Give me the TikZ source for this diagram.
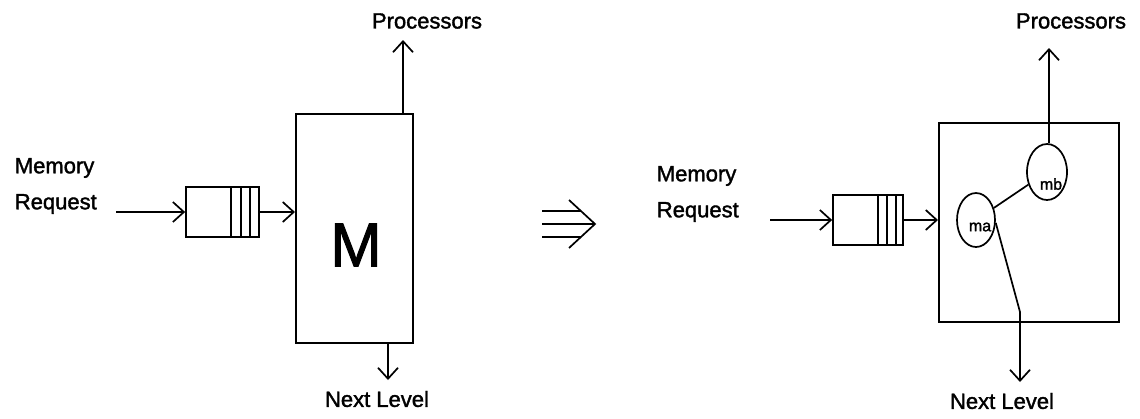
\documentclass[tikz,border=0pt]{standalone}
\usepackage{fontspec}
\setmainfont{Liberation Sans}[FakeBold=1.6]
\usetikzlibrary{arrows.meta,shapes.geometric}
\begin{document}
\begin{tikzpicture}[x=1pt,y=-1pt,
  line width=1.7pt,
  arr/.style={-{Straight Barb[length=11pt,width=20pt,line width=1.7pt]}},
  lbl/.style={font=\fontsize{22}{26}\selectfont, inner sep=0pt},
  small/.style={font=\fontsize{16}{18}\selectfont, inner sep=0pt},
  membox/.style={draw, rectangle, inner sep=0pt, anchor=north west},
  queue/.style={draw, rectangle, inner sep=0pt, minimum height=50pt},
  cell/.style={draw, ellipse, inner sep=0pt}]
\useasboundingbox (0,0) rectangle (1140,418);

% ---------------- left: single memory module ----------------
\node[membox, minimum width=117pt, minimum height=229pt] (memL) at (295,113) {};
\node[font=\fontsize{62}{70}\selectfont, inner sep=0pt] (bigM) at (356,245) {M};

\node[queue, minimum width=73pt] (qL) at (222.5,212) {};
\foreach \d in {10,19,29} \draw ([xshift=-\d pt]qL.north east) -- ([xshift=-\d pt]qL.south east);

\node[lbl, anchor=west] (memTxtL) at (14,168) {Memory};
\node[lbl, anchor=west] (reqTxtL) at (14,204) {Request};
\coordinate (inL) at (116,212);
\draw[arr] (inL) -- (qL.west);
\draw[arr] (qL.east) -- (memL.west |- qL.east);

\coordinate (procTipL) at (403,40);
\draw[arr] (memL.north west -| procTipL) -- (procTipL);
\node[lbl] (procL) at (427,21) {Processors};

\coordinate (nextTipL) at (388,380);
\draw[arr] (memL.south west -| nextTipL) -- (nextTipL);
\node[lbl] (nextL) at (377,399) {Next Level};

% ---------------- refinement symbol ----------------
\draw (542,211) -- (581,211);
\draw (542,224) -- (595,224);
\draw (542,237) -- (581,237);
\draw (569,200) -- (595,224) -- (569,248);

% ---------------- right: module split into two cells ----------------
\node[membox, minimum width=180pt, minimum height=199pt] (memR) at (938,122) {};

\node[queue, minimum width=70pt] (qR) at (868,220) {};
\foreach \d in {8,17,26} \draw ([xshift=-\d pt]qR.north east) -- ([xshift=-\d pt]qR.south east);

\node[lbl, anchor=west] (memTxtR) at (656,176) {Memory};
\node[lbl, anchor=west] (reqTxtR) at (656,212) {Request};
\coordinate (inR) at (770,220);
\draw[arr] (inR) -- (qR.west);
\draw[arr] (qR.east) -- (memR.west |- qR.east);

\node[cell, minimum width=38pt, minimum height=54pt] (ma) at (976,220) {};
\node[cell, minimum width=40pt, minimum height=56pt] (mb) at (1047,172) {};
\node[small] (maTxt) at (980,227) {ma};
\node[small] (mbTxt) at (1051,184) {mb};
\draw (ma) -- (mb);

\coordinate (procTipR) at (1049,48);
\draw[arr] (mb.north -| procTipR) -- (procTipR);
\node[lbl] (procR) at (1071,21) {Processors};

\coordinate (bendR) at (1020,312);
\coordinate (nextTipR) at (1020,382);
\draw[arr] (ma.-8) -- (bendR) -- (nextTipR);
\node[lbl] (nextR) at (1002,401) {Next Level};
\end{tikzpicture}
\end{document}
